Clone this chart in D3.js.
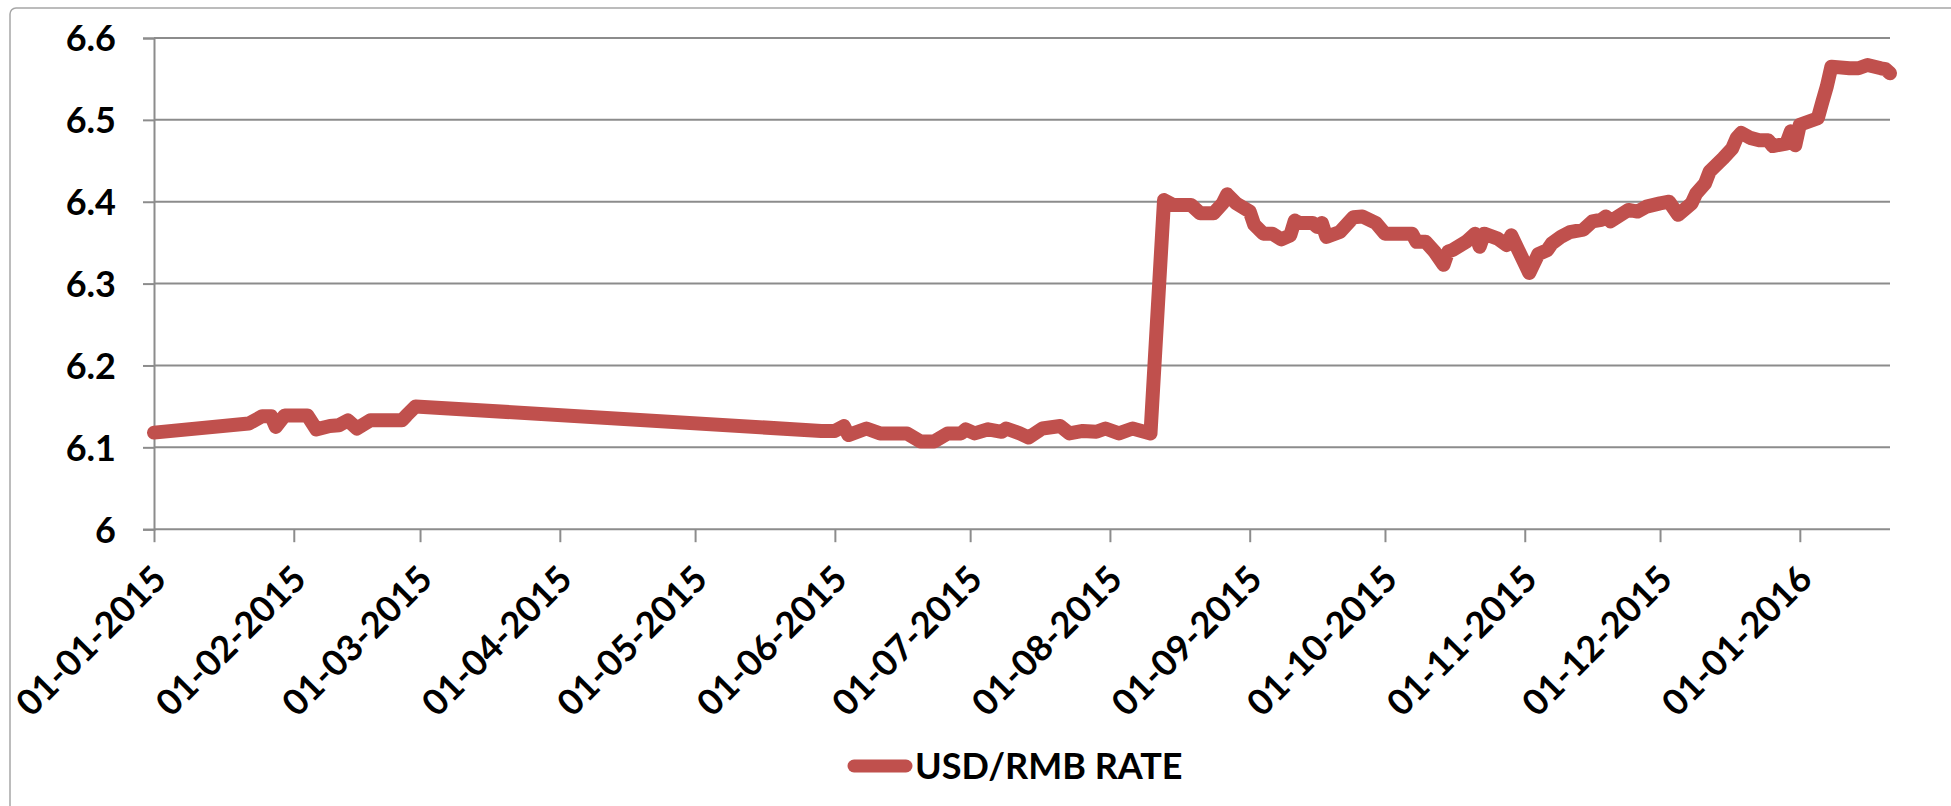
<!DOCTYPE html>
<html>
<head>
<meta charset="utf-8">
<script src="https://cdn.jsdelivr.net/npm/d3@7"></script>
<style>
  html, body { margin: 0; padding: 0; background: #fff; }
  svg { display: block; }
  text { font-family: Lato, "Open Sans", sans-serif; font-weight: 700; fill: #000; }
</style>
</head>
<body>
<svg id="chart" width="1951" height="806"></svg>
<script>
// ---- data ----
const seriesName = "USD/RMB RATE";
const dates = [
  "2015-01-01","2015-01-22","2015-01-25","2015-01-27","2015-01-28","2015-01-30","2015-02-04","2015-02-06",
  "2015-02-09","2015-02-11","2015-02-13","2015-02-15","2015-02-18","2015-02-25","2015-02-26","2015-02-28",
  "2015-05-29","2015-06-01","2015-06-03","2015-06-04","2015-06-08","2015-06-11","2015-06-17","2015-06-20",
  "2015-06-23","2015-06-26","2015-06-29","2015-06-30","2015-07-02","2015-07-05","2015-07-08","2015-07-09",
  "2015-07-12","2015-07-14","2015-07-17","2015-07-21","2015-07-23","2015-07-26","2015-07-29","2015-07-31",
  "2015-08-03","2015-08-06","2015-08-10",
  "2015-08-13","2015-08-15","2015-08-19","2015-08-21","2015-08-24","2015-08-26","2015-08-27","2015-08-29",
  "2015-09-01","2015-09-02","2015-09-04","2015-09-06","2015-09-08","2015-09-10","2015-09-11","2015-09-12",
  "2015-09-15","2015-09-16","2015-09-17","2015-09-18","2015-09-21","2015-09-24","2015-09-26","2015-09-29",
  "2015-10-01","2015-10-07","2015-10-08","2015-10-10","2015-10-12","2015-10-14","2015-10-15","2015-10-16",
  "2015-10-19","2015-10-21","2015-10-22","2015-10-23","2015-10-26","2015-10-28","2015-10-29",
  "2015-11-02","2015-11-04","2015-11-06","2015-11-07","2015-11-09","2015-11-11","2015-11-14","2015-11-16",
  "2015-11-18","2015-11-19","2015-11-20","2015-11-24","2015-11-26","2015-11-28",
  "2015-12-01","2015-12-03","2015-12-05","2015-12-08","2015-12-09","2015-12-11","2015-12-12","2015-12-15",
  "2015-12-17","2015-12-18","2015-12-19","2015-12-21","2015-12-23","2015-12-25","2015-12-26","2015-12-29",
  "2015-12-30","2015-12-31",
  "2016-01-01","2016-01-03","2016-01-05","2016-01-06","2016-01-07","2016-01-08","2016-01-12","2016-01-14",
  "2016-01-16","2016-01-19","2016-01-20","2016-01-21"
];
const rates = [
  6.118,6.129,6.138,6.138,6.125,6.139,6.139,6.122,
  6.126,6.127,6.133,6.123,6.133,6.133,6.139,6.150,
  6.120,6.120,6.126,6.115,6.123,6.117,6.117,6.107,
  6.107,6.117,6.117,6.122,6.117,6.122,6.119,6.123,
  6.117,6.112,6.123,6.126,6.117,6.120,6.119,6.123,
  6.117,6.123,6.117,
  6.402,6.396,6.396,6.386,6.386,6.398,6.409,6.398,
  6.388,6.372,6.361,6.361,6.354,6.359,6.377,6.374,
  6.374,6.369,6.374,6.357,6.363,6.381,6.382,6.374,
  6.361,6.361,6.351,6.351,6.339,6.323,6.339,6.341,
  6.351,6.361,6.345,6.361,6.355,6.347,6.359,
  6.313,6.336,6.341,6.349,6.357,6.363,6.366,6.376,
  6.378,6.382,6.376,6.390,6.388,6.394,
  6.398,6.400,6.384,6.398,6.410,6.4225,6.437,6.453,
  6.465,6.478,6.484,6.478,6.475,6.475,6.468,6.471,
  6.486,6.469,
  6.494,6.498,6.502,6.522,6.541,6.565,6.563,6.563,
  6.567,6.563,6.562,6.557
];
const xTickDates = [
  "2015-01-01","2015-02-01","2015-03-01","2015-04-01","2015-05-01","2015-06-01","2015-07-01",
  "2015-08-01","2015-09-01","2015-10-01","2015-11-01","2015-12-01","2016-01-01"
];
const yTicks = [6, 6.1, 6.2, 6.3, 6.4, 6.5, 6.6];
const xDomain = ["2015-01-01", "2016-01-21"];

// ---- drawing ----
(function () {
  const parse = d3.utcParse("%Y-%m-%d");
  const fmt = d3.utcFormat("%d-%m-%Y");
  const data = dates.map((d, i) => ({ date: parse(d), value: rates[i] }));

  const svg = d3.select("#chart");
  const pLeft = 154, pRight = 1890, pTop = 38, pBottom = 529.2;

  // outer chart-area border (partly cropped)
  svg.append("rect")
    .attr("x", 10).attr("y", 8)
    .attr("width", 2100).attr("height", 900)
    .attr("rx", 6)
    .attr("fill", "none").attr("stroke", "#a6a6a6").attr("stroke-width", 1.5);

  const x = d3.scaleUtc().domain(xDomain.map(parse)).range([pLeft, pRight]);
  const y = d3.scaleLinear().domain([6, 6.6]).range([pBottom, pTop]);

  // horizontal gridlines
  svg.append("g")
    .selectAll("line")
    .data(yTicks)
    .join("line")
    .attr("x1", pLeft).attr("x2", pRight)
    .attr("y1", d => y(d)).attr("y2", d => y(d))
    .attr("stroke", "#8c8c8c").attr("stroke-width", 2);

  // y axis
  const yAxis = svg.append("g")
    .attr("transform", `translate(${pLeft},0)`)
    .call(d3.axisLeft(y).tickValues(yTicks).tickSize(11).tickPadding(27)
      .tickFormat(d => d === 6 ? "6" : d3.format(".1f")(d)));
  yAxis.select(".domain").attr("stroke", "#8c8c8c").attr("stroke-width", 2);
  yAxis.selectAll(".tick line").attr("stroke", "#8c8c8c").attr("stroke-width", 2);
  yAxis.selectAll(".tick text")
    .attr("font-family", "Lato, sans-serif").attr("font-weight", 700)
    .attr("font-size", 36).attr("fill", "#000").attr("dy", "0.36em");

  // x axis
  const xAxis = svg.append("g")
    .attr("transform", `translate(0,${pBottom})`)
    .call(d3.axisBottom(x).tickValues(xTickDates.map(parse)).tickSize(13).tickFormat(fmt));
  xAxis.select(".domain").remove();
  xAxis.selectAll(".tick line").attr("stroke", "#8c8c8c").attr("stroke-width", 2);
  xAxis.selectAll(".tick text")
    .attr("font-family", "Lato, sans-serif").attr("font-weight", 700)
    .attr("font-size", 36).attr("fill", "#000")
    .attr("text-anchor", "end")
    .attr("dy", null)
    .attr("y", null)
    .attr("transform", "translate(14,52) rotate(-45)");

  // series line
  const line = d3.line().x(d => x(d.date)).y(d => y(d.value));
  svg.append("path")
    .datum(data)
    .attr("d", line)
    .attr("fill", "none")
    .attr("stroke", "#C0504D")
    .attr("stroke-width", 14)
    .attr("stroke-linejoin", "round")
    .attr("stroke-linecap", "round");

  // legend
  const lg = svg.append("g");
  lg.append("line")
    .attr("x1", 854).attr("x2", 906).attr("y1", 766).attr("y2", 766)
    .attr("stroke", "#C0504D").attr("stroke-width", 13).attr("stroke-linecap", "round");
  lg.append("text")
    .attr("x", 915).attr("y", 779)
    .attr("font-size", 36)
    .text(seriesName);
})();
</script>
</body>
</html>
